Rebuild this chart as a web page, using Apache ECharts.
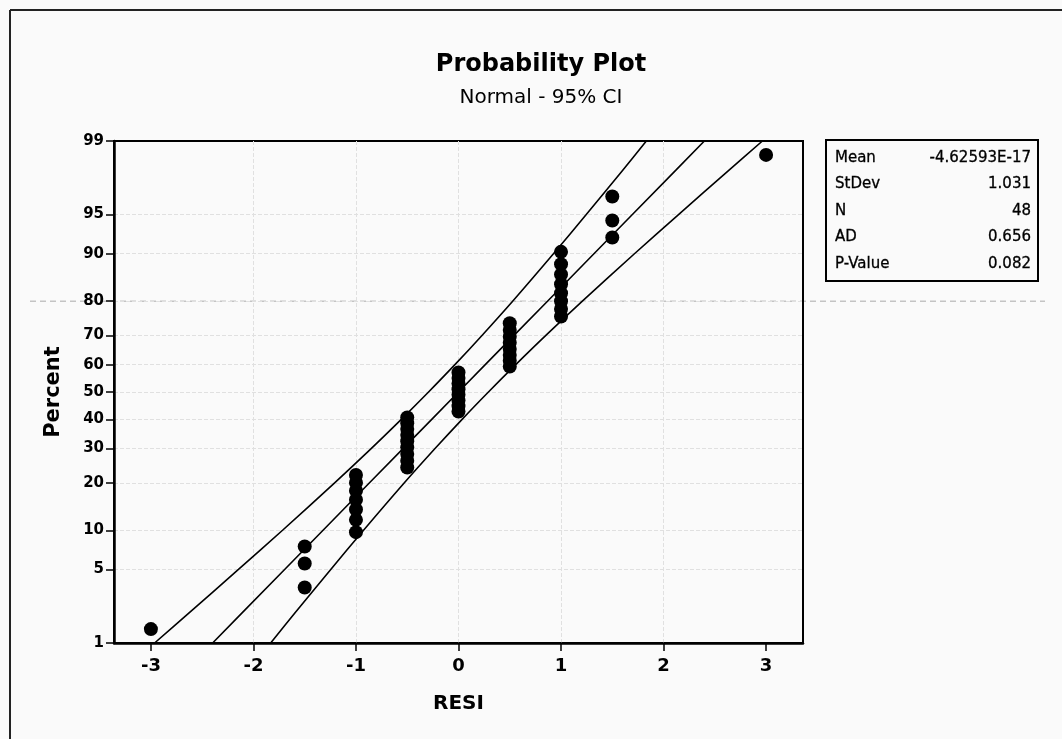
<!DOCTYPE html>
<html><head><meta charset="utf-8">
<script src="https://cdn.jsdelivr.net/npm/echarts@6/dist/echarts.min.js"></script>
<style>html,body{margin:0;padding:0;background:#fafafa}#c{width:1062px;height:739px}</style>
</head><body><div id="c"></div>
<script>
// ---- data ----
const resi = [-3,
  -1.5, -1.5, -1.5,
  -1, -1, -1, -1, -1, -1, -1,
  -0.5, -0.5, -0.5, -0.5, -0.5, -0.5, -0.5, -0.5, -0.5,
  0, 0, 0, 0, 0, 0, 0, 0,
  0.5, 0.5, 0.5, 0.5, 0.5, 0.5, 0.5, 0.5,
  1, 1, 1, 1, 1, 1, 1, 1,
  1.5, 1.5, 1.5,
  3];
const percent = [1.4,
  3.5, 5.6, 7.6,
  9.7, 11.8, 13.8, 15.9, 18.0, 20.0, 22.1,
  24.2, 26.2, 28.3, 30.4, 32.4, 34.5, 36.6, 38.6, 40.7,
  42.8, 44.8, 46.9, 49.0, 51.0, 53.1, 55.2, 57.2,
  59.3, 61.4, 63.4, 65.5, 67.6, 69.6, 71.7, 73.8,
  75.8, 77.9, 80.0, 82.0, 84.1, 86.2, 88.2, 90.3,
  92.4, 94.4, 96.5,
  98.6];
const bandPercent = [1, 2, 5, 10, 20, 30, 40, 50, 60, 70, 80, 90, 95, 98, 99];
const fitLine  = [-2.398, -2.118, -1.696, -1.321, -0.868, -0.541, -0.261, 0, 0.261, 0.541, 0.868, 1.321, 1.696, 2.118, 2.398];
const ciLeft   = [-2.964, -2.636, -2.146, -1.716, -1.208, -0.852, -0.558, -0.292, -0.035, 0.229, 0.528, 0.926, 1.246, 1.600, 1.832];
const ciRight  = [-1.832, -1.600, -1.246, -0.926, -0.528, -0.229, 0.035, 0.292, 0.558, 0.852, 1.208, 1.716, 2.146, 2.636, 2.964];
const xTicks = [-3, -2, -1, 0, 1, 2, 3];
const yTickPercent = [1, 5, 10, 20, 30, 40, 50, 60, 70, 80, 90, 95, 99];
const statLabels = ['Mean', 'StDev', 'N', 'AD', 'P-Value'];
const statValues = ['-4.62593E-17', '1.031', '48', '0.656', '0.082'];
const titleText = 'Probability Plot';
const subtitleText = 'Normal - 95% CI';

// ---- normal probability scale ----
function qnorm(p) {
  const a = [-3.969683028665376e+01, 2.209460984245205e+02, -2.759285104469687e+02, 1.383577518672690e+02, -3.066479806614716e+01, 2.506628277459239e+00];
  const b = [-5.447609879822406e+01, 1.615858368580409e+02, -1.556989798598866e+02, 6.680131188771972e+01, -1.328068155288572e+01];
  const c = [-7.784894002430293e-03, -3.223964580411365e-01, -2.400758277161838e+00, -2.549671010229528e+00, 4.374664141464968e+00, 2.938163982698783e+00];
  const d = [7.784695709041462e-03, 3.224671290700398e-01, 2.445134137142996e+00, 3.754408661907416e+00];
  const pl = 0.02425, ph = 1 - pl;
  let q, r;
  if (p < pl) {
    q = Math.sqrt(-2 * Math.log(p));
    return (((((c[0]*q+c[1])*q+c[2])*q+c[3])*q+c[4])*q+c[5]) / ((((d[0]*q+d[1])*q+d[2])*q+d[3])*q+1);
  } else if (p <= ph) {
    q = p - 0.5; r = q*q;
    return (((((a[0]*r+a[1])*r+a[2])*r+a[3])*r+a[4])*r+a[5])*q / (((((b[0]*r+b[1])*r+b[2])*r+b[3])*r+b[4])*r+1);
  } else {
    q = Math.sqrt(-2 * Math.log(1 - p));
    return -(((((c[0]*q+c[1])*q+c[2])*q+c[3])*q+c[4])*q+c[5]) / ((((d[0]*q+d[1])*q+d[2])*q+d[3])*q+1);
  }
}
const yTickZ = yTickPercent.map(p => qnorm(p / 100));
const zMin = yTickZ[0], zMax = yTickZ[yTickZ.length - 1];
function zToLabel(v) {
  let best = 0, bd = Infinity;
  yTickZ.forEach((z, i) => { const dd = Math.abs(z - v); if (dd < bd) { bd = dd; best = i; } });
  return String(yTickPercent[best]);
}

const FONT = '"DejaVu Sans", sans-serif';
const chart = echarts.init(document.getElementById('c'), null, {renderer: 'canvas'});

const lineStyle = {color: '#000', width: 1.6};
const bandSeries = (name, xs) => ({
  name, type: 'line', smooth: 0.3, symbol: 'none', silent: true,
  lineStyle, data: bandPercent.map((p, i) => [xs[i], qnorm(p / 100)]), z: 3
});

const split = {show: true, showMinLine: false, showMaxLine: false, lineStyle: {color: '#e0e0e0', type: 'dashed', width: 1}};

chart.setOption({
  backgroundColor: '#fafafa',
  animation: false,
  grid: {left: 114, right: 259, top: 141, bottom: 96, show: true, borderColor: '#000', borderWidth: 2, backgroundColor: 'transparent'},
  xAxis: {
    type: 'value', min: -3.36, max: 3.36,
    axisLine: {show: true, onZero: false, lineStyle: {color: '#000', width: 2.5}},
    axisTick: {show: true, customValues: xTicks, length: 8, lineStyle: {color: '#000', width: 1.5}},
    axisLabel: {customValues: xTicks, fontSize: 18, fontWeight: 'bold', color: '#000', fontFamily: FONT, margin: 14},
    splitLine: split,
    name: 'RESI', nameLocation: 'middle', nameGap: 51,
    nameTextStyle: {fontSize: 20, fontWeight: 'bold', color: '#000', fontFamily: FONT}
  },
  yAxis: {
    type: 'value', min: zMin, max: zMax,
    axisLine: {show: true, onZero: false, lineStyle: {color: '#000', width: 2.5}},
    axisTick: {show: true, customValues: yTickZ, length: 8, lineStyle: {color: '#000', width: 1.5}},
    axisLabel: {customValues: yTickZ, formatter: v => zToLabel(v), fontSize: 15, fontWeight: 'bold', color: '#000', fontFamily: FONT, margin: 10, showMinLabel: true, showMaxLabel: true},
    splitLine: split,
    name: 'Percent', nameLocation: 'middle', nameGap: 50,
    nameTextStyle: {fontSize: 21, fontWeight: 'bold', color: '#000', fontFamily: FONT}
  },
  series: [
    bandSeries('CI lower', ciLeft),
    {name: 'Fit', type: 'line', symbol: 'none', silent: true, lineStyle,
      data: bandPercent.map((p, i) => [fitLine[i], qnorm(p / 100)]), z: 3},
    bandSeries('CI upper', ciRight),
    {name: 'RESI', type: 'scatter', symbol: 'circle', symbolSize: 14,
      itemStyle: {color: '#000', opacity: 1}, z: 4,
      data: resi.map((r, i) => [r, qnorm(percent[i] / 100)])}
  ]
});

// faint dashed scan line across the page at the 80% level (position from the axis scale)
const y80 = chart.convertToPixel({gridIndex: 0}, [0, qnorm(0.8)])[1];

const graphics = [
  {type: 'line', silent: true, z: -1, shape: {x1: 30, y1: y80, x2: 1045, y2: y80},
    style: {stroke: '#c4c4c4', lineWidth: 1.5, lineDash: [6, 4]}},
  {type: 'line', shape: {x1: 10, y1: 10, x2: 1062, y2: 10}, style: {stroke: '#222', lineWidth: 2}},
  {type: 'line', shape: {x1: 10, y1: 10, x2: 10, y2: 739}, style: {stroke: '#222', lineWidth: 2}},
  {type: 'text', x: 541, y: 65, style: {text: titleText, font: 'bold 24px ' + FONT, fill: '#000', textAlign: 'center', textVerticalAlign: 'middle'}},
  {type: 'text', x: 541, y: 98, style: {text: subtitleText, font: '20px ' + FONT, fill: '#000', textAlign: 'center', textVerticalAlign: 'middle'}},
  {type: 'rect', shape: {x: 826, y: 140, width: 212, height: 141}, style: {fill: '#fafafa', stroke: '#000', lineWidth: 2}}
];
statLabels.forEach((l, i) => {
  graphics.push({type: 'text', x: 835, y: 158 + i * 26.5,
    style: {text: l, font: '15px ' + FONT, fill: '#000', stroke: '#000', lineWidth: 0.3, textAlign: 'left', textVerticalAlign: 'middle'}});
  graphics.push({type: 'text', x: 1031, y: 158 + i * 26.5,
    style: {text: statValues[i], font: '15px ' + FONT, fill: '#000', stroke: '#000', lineWidth: 0.3, textAlign: 'right', textVerticalAlign: 'middle'}});
});
chart.setOption({graphic: graphics});
</script>
</body></html>
